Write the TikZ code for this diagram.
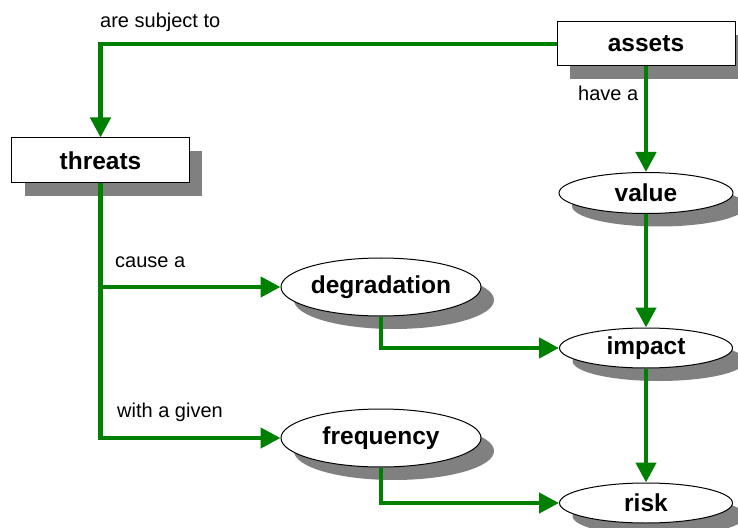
\documentclass[tikz,border=0pt]{standalone}
\usepackage{fontspec}
\setmainfont{Liberation Sans}
\usetikzlibrary{shapes.geometric,shadows,arrows.meta}
\definecolor{conn}{RGB}{0,128,0}
\definecolor{shade}{RGB}{128,128,128}
\tikzset{
  shd/.style={drop shadow={shadow xshift=13bp,shadow yshift=-13bp,fill=shade,opacity=1}},
  boxnode/.style={draw=black,line width=1bp,fill=white,minimum width=178bp,minimum height=44bp,inner sep=0,shd,font=\fontsize{24.5bp}{28bp}\selectfont\bfseries},
  ellnode/.style={ellipse,draw=black,line width=1bp,fill=white,inner sep=0,shd,font=\fontsize{24.5bp}{28bp}\selectfont\bfseries},
  conarrow/.style={draw=conn,line width=4.5bp,-{Triangle[length=20bp,width=20bp]}},
  conline/.style={draw=conn,line width=4.5bp},
  lbl/.style={anchor=base west,inner sep=0,font=\fontsize{20bp}{24bp}\selectfont}
}
\begin{document}
\begin{tikzpicture}[x=1bp,y=-1bp]
\useasboundingbox (0,0) rectangle (738,528);
\node[boxnode] (assets) at (646,44) {assets};
\node[boxnode,minimum width=177bp,minimum height=45bp] (threats) at (100.5,160.5) {threats};
\node[ellnode,minimum width=174bp,minimum height=41bp] (value) at (646,193) {value};
\node[ellnode,minimum width=200bp,minimum height=58bp] (degradation) at (381,287) {degradation};
\node[ellnode,minimum width=173bp,minimum height=40bp] (impact) at (646,348) {impact};
\node[ellnode,minimum width=200bp,minimum height=58bp] (frequency) at (381,438) {frequency};
\node[ellnode,minimum width=173bp,minimum height=40bp] (risk) at (646,503) {risk};

\draw[conarrow] (assets.west) -| (threats.north);
\draw[conarrow] (assets.south) -- (value.north);
\draw[conarrow] (value.south) -- (impact.north);
\draw[conarrow] (impact.south) -- (risk.north);
\draw[conarrow] (threats.south) |- (frequency.west);
\draw[conarrow] (threats.south |- degradation.west) -- (degradation.west);
\draw[conarrow] (degradation.south) |- (impact.west);
\draw[conarrow] (frequency.south) |- (risk.west);

\node[lbl] (l1) at (100,28) {are subject to};
\node[lbl] (l2) at (578,101) {have a};
\node[lbl] (l3) at (115,268) {cause a};
\node[lbl] (l4) at (117,417) {with a given};
\end{tikzpicture}
\end{document}
